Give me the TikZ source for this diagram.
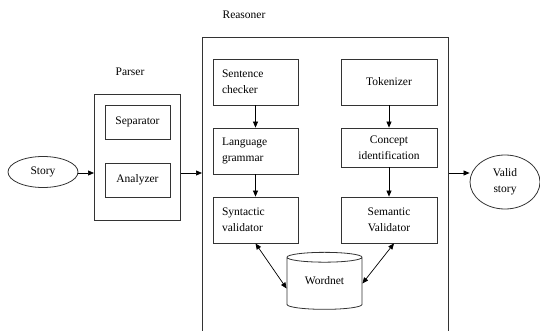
\documentclass[tikz,border=0pt]{standalone}
\usepackage{fontspec}
\setmainfont{Liberation Serif}
\usetikzlibrary{shapes.geometric,arrows.meta}
\begin{document}
\begin{tikzpicture}[x=1pt,y=-1pt,
  txt/.style={font=\rmfamily\fontsize{11.5}{16}\selectfont},
  frame/.style={draw=black!80, line width=0.8pt},
  boxL/.style={frame, txt, inner xsep=0pt, inner ysep=0pt, minimum width=85pt, minimum height=46pt, text width=67pt, align=left},
  boxC/.style={frame, txt, inner xsep=0pt, inner ysep=0pt, minimum width=96pt, minimum height=46pt, text width=90pt, align=center},
  pbox/.style={frame, txt, inner sep=0pt, minimum width=65pt, minimum height=34pt},
  oval/.style={frame, txt, ellipse, inner sep=0pt, align=center},
  arr/.style={line width=0.7pt, -{Triangle[length=6pt,width=5pt]}},
  darr/.style={line width=0.7pt, {Triangle[length=6pt,width=5pt]}-{Triangle[length=6pt,width=5pt]}}
]
\useasboundingbox (0,0) rectangle (540,331);
\clip (0,0) rectangle (540,331);

% labels
\node[txt] (lreas) at (244,15) {Reasoner};
\node[txt] (lpars) at (130,72) {Parser};

% Reasoner frame (bottom edge out of view)
\node[frame, anchor=north west, minimum width=246pt, minimum height=310pt, inner sep=0pt] (reasoner) at (202,37) {};

% Parser
\node[frame, anchor=north west, minimum width=86pt, minimum height=126pt, inner sep=0pt] (parser) at (94,94) {};
\node[pbox] (sep) at (137.5,122) {\raisebox{3pt}{Separator}};
\node[pbox] (ana) at (137.5,180) {\raisebox{3pt}{Analyzer}};

% Story ovals
\node[oval, minimum width=70pt, minimum height=31pt] (story) at (43,172) {Story};
\node[oval, minimum width=70pt, minimum height=54pt] (valid) at (505,182) {Valid\\story};

% Left column
\node[boxL] (sent) at (255.5,82) {Sentence\\checker};
\node[boxL] (lang) at (255.5,151) {Language\\grammar};
\node[boxL] (synt) at (255.5,220) {Syntactic\\validator};

% Right column
\node[boxC] (tok) at (389,82) {Tokenizer};
\node[boxC, minimum height=39pt] (conc) at (389,147.5) {Concept\\identification};
\node[boxC] (sem) at (389,220) {Semantic\\Validator};

% Wordnet
\node[frame, txt, cylinder, shape border rotate=90, aspect=0.25, minimum width=75pt, minimum height=57pt, inner sep=0pt] (wn) at (324.5,283.5) {\raisebox{6pt}{Wordnet}};

% connectors
\draw[arr] (story.east |- 0,173) -- (parser.west |- 0,173);
\draw[arr] (parser.east |- 0,173) -- (reasoner.west |- 0,173);
\draw[arr] (reasoner.east |- 0,173) -- (valid.west |- 0,173);
\draw[arr] (sent) -- (lang);
\draw[arr] (lang) -- (synt);
\draw[arr] (tok) -- (conc);
\draw[arr] (conc) -- (sem);
\draw[darr] (synt.south) -- ([yshift=-5pt]wn.west);
\draw[darr] ([xshift=5pt]sem.south) -- (wn.east);
\end{tikzpicture}
\end{document}
